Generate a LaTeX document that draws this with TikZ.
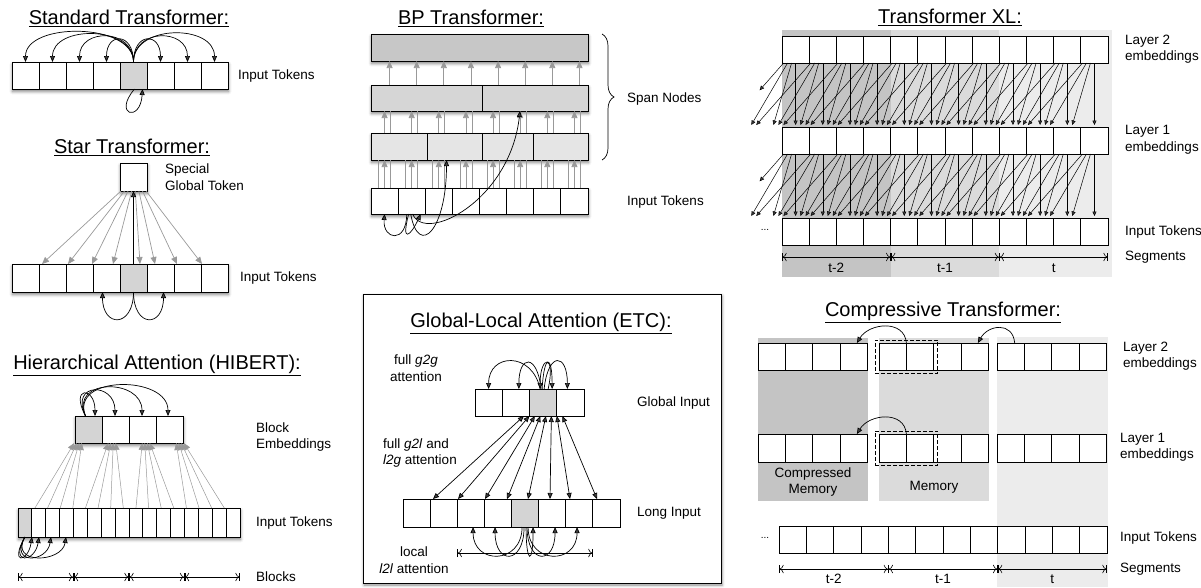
\documentclass[tikz,border=0pt]{standalone}
\usepackage{fontspec}
\setmainfont{Liberation Sans}
\usetikzlibrary{arrows.meta, calc, fit, shadows.blur, decorations.pathreplacing}

\definecolor{tokgray}{gray}{0.83}
\definecolor{shadeA}{gray}{0.77}
\definecolor{shadeB}{gray}{0.86}
\definecolor{shadeC}{gray}{0.925}
\definecolor{spanA}{gray}{0.78}
\definecolor{spanB}{gray}{0.84}
\definecolor{spanC}{gray}{0.9}
\definecolor{arrgray}{gray}{0.6}

\tikzset{
  tok/.style={draw, line width=0.8pt, fill=white, inner sep=0pt, outer sep=0pt},
  rowshadow/.style={fill=white, blur shadow={shadow xshift=0.5pt, shadow yshift=-2.5pt, shadow blur radius=3pt, shadow opacity=50}},
  ttl/.style={font=\fontsize{20}{24}\selectfont},
  lbl/.style={font=\fontsize{13.5}{16.5}\selectfont, anchor=west, align=left, inner sep=0pt},
  att/.style={line width=0.7pt, -{Triangle[length=6pt, width=5pt]}},
  gatt/.style={line width=0.7pt, draw=arrgray, -{Triangle[length=7pt, width=6pt]}},
  xlatt/.style={line width=0.5pt, -{Triangle[length=4.5pt, width=4pt]}},
  dimline/.style={line width=0.6pt, {Bar[width=8pt]To[length=4pt]}-{To[length=4pt]Bar[width=8pt]}},
}

% a row of token boxes: [extra], name, x0, y0, count, width, height
\newcommand{\tokrow}[7][]{%
  \path[#1] (#3,#4) rectangle ++({#5*#6},#7);
  \foreach \i in {1,...,#5}
    \node[tok, minimum width=#6, minimum height=#7] (#2-\i) at ({#3+(\i-0.5)*#6},{#4+#7/2}) {};
}
\newcommand{\marktok}[1]{%
  \filldraw[fill=tokgray, line width=0.8pt] (#1.south west) rectangle (#1.north east);}

\begin{document}
\begin{tikzpicture}[x=1pt, y=-1pt]
\useasboundingbox (0,0) rectangle (1201,587);

% ---------- Standard Transformer
\node[ttl] (stdttl) at (129,18) {\underline{Standard Transformer:}};
\tokrow[rowshadow]{std}{12}{62}{8}{27}{27}
\marktok{std-5}
\foreach \i/\h in {1/40, 2/37, 3/34, 4/30, 6/30, 7/34, 8/38}
  \draw[att] (std-5.north) .. controls +(0,-\h) and +(0,-\h) .. (std-\i.north);
\draw[att] ([xshift=1]std-5.south) .. controls +(-22,26) and +(-2,34) .. ([xshift=9]std-5.south);
\node[lbl] (stdlbl) at (238,76) {Input Tokens};

% ---------- Star Transformer
\node[ttl] (starttl) at (132,147) {\underline{Star Transformer:}};
\node[tok, rowshadow, minimum width=27, minimum height=28] (glob) at (133.5,177) {};
\node[lbl] (globlbl) at (165,177) {Special\\Global Token};
\tokrow[rowshadow]{star}{12}{264}{8}{27}{28}
\marktok{star-5}
\foreach \k/\tx in {1/30, 2/56, 3/80, 4/101, 5/128, 6/143, 7/165, 8/190}
  \draw[gatt] ([xshift={(\k-4.5)*3.6}]glob.south) -- ([xshift=\tx]star-1.north west);
\draw[att] (star-5.north) -- (glob.south);
\draw[att] (star-5.south) .. controls +(0,36) and +(0,36) .. ([xshift=-4]star-4.south);
\draw[att] (star-5.south) .. controls +(0,36) and +(0,36) .. ([xshift=3]star-6.south);
\node[lbl] (starlbl) at (240,278) {Input Tokens};

% ---------- Hierarchical Attention
\node[ttl] (hibttl) at (157,365) {\underline{Hierarchical Attention (HIBERT):}};
\tokrow[rowshadow]{blk}{75}{416}{4}{27}{27}
\marktok{blk-1}
\foreach \tx/\h in {20/30, 40/34, 67/38, 93/41}
  \draw[att] ([xshift=-3]blk-1.north) .. controls +(-16,-\h) and +(0,-\h) .. ([xshift=\tx]blk-1.north west);
\node[lbl] (blklbl) at (256,437) {Block\\Embeddings};
\tokrow[rowshadow]{hib}{18}{508}{16}{13.875}{29}
\marktok{hib-1}
\foreach \jj in {1,...,16}{
  \pgfmathtruncatemacro{\blkno}{(\jj-1)/4+1}
  \pgfmathsetmacro{\sx}{10-1.25*(\jj-1)}
  \pgfmathsetmacro{\tx}{(\blkno-2.5)*7+(\jj-4*\blkno+1.5)*2.5}
  \draw[gatt, line width=0.5pt] ([xshift=\sx]hib-\jj.north) -- ([xshift=\tx]blk-\blkno.south);
}
\foreach \tx in {14, 21, 33, 48}
  \draw[att] (hib-1.south) .. controls +(-16,28) and +(-4,26) .. ([xshift=\tx]hib-1.south west);
\node[lbl] (hiblbl) at (256,523) {Input Tokens};
\coordinate (hibdim) at (0,577);
\foreach \blkno in {1,...,4}{
  \pgfmathtruncatemacro{\sa}{4*\blkno-3}
  \pgfmathtruncatemacro{\sb}{4*\blkno}
  \draw[dimline] (hib-\sa.west |- hibdim) -- (hib-\sb.east |- hibdim);
}
\node[lbl] (blocklbl) at (256,577) {Blocks};

% ---------- BP Transformer
\node[ttl] (bpttl) at (471,18) {\underline{BP Transformer:}};
\path[rowshadow] (371,34) rectangle (588,61);
\node[tok, fill=spanA, minimum width=217, minimum height=27] (bpt) at (479.5,47.5) {};
\path[rowshadow] (371,85) rectangle (588,111);
\foreach \n/\cx/\w in {1/426.5/111, 2/535/106}
  \node[tok, fill=spanB, minimum width=\w, minimum height=26] (bpm-\n) at (\cx,98) {};
\path[rowshadow] (371,133) rectangle (588,160);
\foreach \n/\cx/\w in {1/399/56, 2/454.5/55, 3/507.5/51, 4/560.5/55}
  \node[tok, fill=spanC, minimum width=\w, minimum height=27] (bpi-\n) at (\cx,146.5) {};
\tokrow[rowshadow]{bpin}{371}{188}{8}{27.125}{26}
\foreach \k in {1,...,8}{
  \coordinate (bpa\k) at ([xshift=5]bpin-\k.north);
  \coordinate (bpb\k) at (bpin-\k.north);
  \coordinate (bpl\k) at ([xshift=-6]bpin-\k.north);
  \coordinate (bpr\k) at ([xshift=6]bpin-\k.north);
  \draw[gatt] (bpa\k |- bpm-1.north) -- (bpa\k |- bpt.south);
  \draw[gatt] (bpb\k |- bpi-1.north) -- (bpb\k |- bpm-1.south);
  \draw[arrgray, line width=0.7pt] (bpr\k |- bpi-1.north) -- (bpr\k |- bpm-1.south);
  \draw[gatt] (bpb\k) -- (bpb\k |- bpi-1.south);
  \draw[arrgray, line width=0.7pt] (bpl\k) -- (bpl\k |- bpi-1.south);
  \draw[arrgray, line width=0.7pt] (bpr\k) -- (bpr\k |- bpi-1.south);
}
\draw[att] ([xshift=-5]bpin-2.south) .. controls +(0,30) and +(-2,26) .. (bpin-1.south);
\draw[att] ([xshift=-3]bpin-2.south) .. controls +(-8,30) and +(-10,22) .. ([xshift=9]bpin-2.south);
\draw[att] ([xshift=-1]bpin-2.south) .. controls +(8,44) and +(0,70) .. ([xshift=-8]bpi-2.south);
\draw[att] ([xshift=1]bpin-2.south) .. controls +(12,30) and +(-10,90) .. ([xshift=-15]bpm-2.south);
\draw[line width=0.7pt, decorate, decoration={brace, amplitude=12pt}] ([xshift=14]bpt.north east) -- ([xshift=14]bpi-4.south east);
\node[lbl] (spanlbl) at (627,99) {Span Nodes};
\node[lbl] (bplbl) at (627,202) {Input Tokens};

% ---------- Global-Local Attention (ETC)
\node[draw, line width=0.8pt, fill=white, inner sep=0pt, minimum width=358, minimum height=289,
  blur shadow={shadow xshift=1pt, shadow yshift=-2pt, shadow blur radius=3pt, shadow opacity=45}] (etcbox) at (542,438.5) {};
\node[ttl] (etcttl) at (541,323) {\underline{Global-Local Attention (ETC):}};
\tokrow{gin}{475}{389}{4}{27.25}{27}
\marktok{gin-3}
\tokrow{lin}{403}{499}{8}{27.125}{28}
\marktok{lin-5}
\draw[att] ([xshift=-3]gin-3.north) .. controls +(-8,-38) and +(0,-36) .. (gin-1.north);
\draw[att] ([xshift=-2]gin-3.north) .. controls +(-4,-36) and +(0,-34) .. ([xshift=3]gin-2.north);
\draw[att] ([xshift=5]gin-3.north) .. controls +(8,-36) and +(0,-34) .. ([xshift=-3]gin-3.north);
\draw[att] ([xshift=-1]gin-3.north) .. controls +(2,-36) and +(0,-34) .. ([xshift=9]gin-3.north);
\draw[att] ([xshift=1]gin-3.north) .. controls +(4,-38) and +(0,-36) .. ([xshift=-3]gin-4.north);
\foreach \k/\tx in {1/30, 2/55, 3/82, 4/104, 5/125, 6/147, 7/167, 8/194}
  \draw[line width=0.7pt, {Triangle[length=6pt, width=5pt]}-{Triangle[length=6pt, width=5pt]}]
    ([xshift={(\k-4.5)*5.5}]gin-3.south) -- ([xshift=\tx]lin-1.north west);
\foreach \sx/\tx in {-3/-52, -1/-30, 1/8, 2/30, 3/52}
  \draw[att] ([xshift=\sx]lin-5.south) .. controls +(0,38) and +(0,38) .. ([xshift=\tx]lin-5.south);
\coordinate (etcdim) at (0,553);
\draw[dimline] (lin-3.west |- etcdim) -- (lin-8.west |- etcdim);
\node[lbl, anchor=center, align=center] (g2glbl) at (416,368) {full \textit{g2g}\\attention};
\node[lbl] (g2llbl) at (383,453) {full \textit{g2l} and\\\textit{l2g} attention};
\node[lbl, anchor=center, align=center] (l2llbl) at (414,560) {local\\\textit{l2l} attention};
\node[lbl] (ginlbl) at (637,403) {Global Input};
\node[lbl] (linlbl) at (637,513) {Long Input};

% ---------- Transformer XL
\fill[shadeA] (782,30) rectangle (891,277);
\fill[shadeB] (891,30) rectangle (999,277);
\fill[shadeC] (999,30) rectangle (1112,277);
\node[ttl] (xlttl) at (950,17) {\underline{Transformer XL:}};
\tokrow{xla}{782}{36}{12}{27.17}{27}
\tokrow{xlb}{782}{127}{12}{27.17}{27}
\tokrow{xlc}{782}{218}{12}{27.17}{27}
\foreach \up/\dn in {xla/xlb, xlb/xlc}
  \foreach \i in {1,...,12}
    \foreach \k in {0,...,3}{
      \pgfmathtruncatemacro{\jj}{\i-\k}
      \ifnum\jj>0
        \draw[xlatt] ([xshift={-4*\k}]\up-\i.south) -- ([xshift={5*\k}, yshift=2]\dn-\jj.north);
      \else\ifnum\jj>-2
        \draw[xlatt] ([xshift={-4*\k}]\up-\i.south) -- ([xshift={5*\k-27.17*(1-\jj)}, yshift=2]\dn-1.north);
      \else
        \draw[xlatt] ([xshift={-4*\k}]\up-\i.south) -- ($([xshift={-4*\k}]\up-\i.south)!0.44!([xshift={5*\k-27.17*(1-\jj)}, yshift=2]\dn-1.north)$);
      \fi\fi
    }
\node[lbl] (xlalbl) at (1125,49) {Layer 2\\embeddings};
\node[lbl] (xlblbl) at (1125,140) {Layer 1\\embeddings};
\node[lbl] (xlclbl) at (1125,232) {Input Tokens};
\node[lbl] (xlseglbl) at (1125,257) {Segments};
\node[font=\fontsize{10}{12}\selectfont] (xldots) at (765,230) {...};
\coordinate (xldim) at (0,257);
\foreach \sa/\sb/\nm in {1/4/t-2, 5/8/t-1, 9/12/t}{
  \draw[dimline] (xlc-\sa.west |- xldim) -- (xlc-\sb.east |- xldim);
  \node[font=\fontsize{13.5}{16}\selectfont] (xlseg\sa) at ($(xlc-\sa.west |- xldim)!0.5!(xlc-\sb.east |- xldim)+(0,11)$) {\nm};
}

% ---------- Compressive Transformer
\fill[shadeA] (758,338) rectangle (868,501);
\fill[shadeB] (879,338) rectangle (989,501);
\fill[shadeC] (997,337) rectangle (1108,587);
\node[ttl] (cmpttl) at (943,312) {\underline{Compressive Transformer:}};
\tokrow{cta}{758}{343}{4}{27.4}{27}
\tokrow{ctb}{879}{343}{4}{27.4}{27}
\tokrow{ctc}{997}{343}{4}{27.4}{27}
\tokrow{cba}{758}{434}{4}{27.4}{28}
\tokrow{cbb}{879}{434}{4}{27.4}{28}
\tokrow{cbc}{997}{434}{4}{27.4}{28}
\tokrow{cin}{779}{526}{12}{27.33}{27}
\node[draw, line width=0.8pt, dash pattern=on 4pt off 2pt, inner xsep=4pt, inner ysep=3pt, fit=(ctb-1)(ctb-2)] (ctdash) {};
\node[draw, line width=0.8pt, dash pattern=on 4pt off 2pt, inner xsep=4pt, inner ysep=3pt, fit=(cbb-1)(cbb-2)] (cbdash) {};
\draw[att] (ctb-1.north east) .. controls +(-2,-24) and +(12,-20) .. ([xshift=3]cta-4.north);
\draw[att] ([xshift=4]ctc-1.north) .. controls +(-2,-22) and +(10,-18) .. ([xshift=3]ctb-4.north);
\draw[att] (cbb-1.north east) .. controls +(-2,-24) and +(12,-20) .. ([xshift=3]cba-4.north);
\node[lbl, anchor=center, align=center] (cmemlbl) at (813,482) {Compressed\\Memory};
\node[lbl, anchor=center] (memlbl) at (934,487) {Memory};
\node[lbl] (ctlbl) at (1123,356) {Layer 2\\embeddings};
\node[lbl] (cblbl) at (1120,447) {Layer 1\\embeddings};
\node[lbl] (cinlbl) at (1120,538) {Input Tokens};
\node[lbl] (cseglbl) at (1120,569) {Segments};
\node[font=\fontsize{10}{12}\selectfont] (cdots) at (765,538) {...};
\coordinate (cdim) at (0,569);
\foreach \sa/\sb/\nm in {1/4/t-2, 5/8/t-1, 9/12/t}{
  \draw[dimline] (cin-\sa.west |- cdim) -- (cin-\sb.east |- cdim);
  \node[font=\fontsize{13.5}{16}\selectfont, inner sep=1pt] (cseg\sa) at ($(cin-\sa.west |- cdim)!0.5!(cin-\sb.east |- cdim)+(0,10)$) {\nm};
}
\end{tikzpicture}
\end{document}
